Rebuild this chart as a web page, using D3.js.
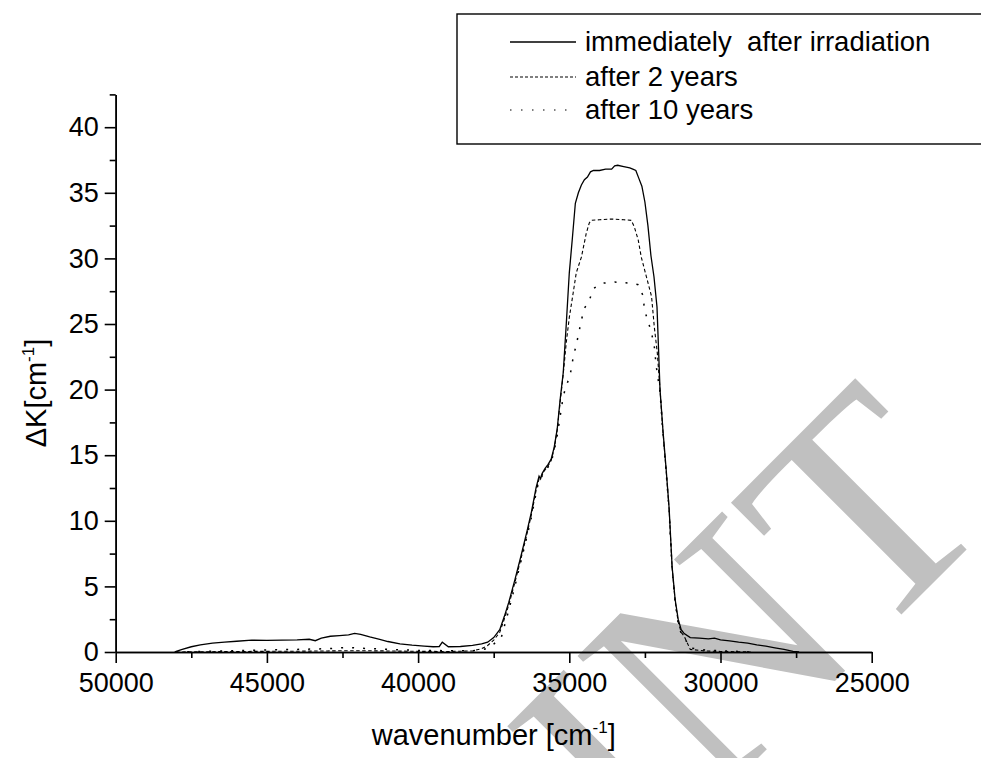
<!DOCTYPE html>
<html>
<head>
<meta charset="utf-8">
<script src="https://cdn.jsdelivr.net/npm/d3@7"></script>
<style>
	body { margin: 0; background: #fff; }
	svg { display: block; font-family: "Liberation Sans", Arial, sans-serif; }
</style>
</head>
<body>
<svg width="981" height="758"></svg>
<script>
// Spectra: wavenumber [cm-1] and delta K [cm-1]
var wnNow = [48050, 48000, 47800, 47500, 47200, 46800, 46400, 46000, 45500, 45000, 44500, 44000, 43600, 43400, 43200, 42900, 42600, 42300, 42100, 41900, 41600, 41300, 41000, 40600, 40200, 39800, 39500, 39300, 39200, 39000, 38600, 38200, 37900, 37700, 37500, 37300, 37150, 37000, 36800, 36600, 36400, 36250, 36100, 36000, 35950, 35900, 35800, 35700, 35600, 35500, 35400, 35300, 35200, 35100, 35000, 34900, 34800, 34700, 34600, 34500, 34400, 34300, 34200, 34000, 33800, 33600, 33500, 33400, 33200, 33000, 32900, 32800, 32700, 32600, 32500, 32400, 32300, 32200, 32100, 32000, 31900, 31800, 31700, 31600, 31500, 31400, 31300, 31200, 31000, 30700, 30400, 30200, 30000, 29700, 29400, 29100, 28800, 28500, 28200, 27900, 27600, 27400]
var kNow = [0, 0.05, 0.2, 0.4, 0.55, 0.68, 0.75, 0.82, 0.9, 0.88, 0.9, 0.92, 0.97, 0.86, 1.05, 1.2, 1.25, 1.3, 1.42, 1.35, 1.15, 0.98, 0.8, 0.62, 0.52, 0.45, 0.4, 0.42, 0.75, 0.4, 0.42, 0.5, 0.62, 0.75, 1.1, 1.7, 2.7, 3.8, 5.5, 7.3, 9.2, 10.7, 12.5, 13.4, 13.2, 13.6, 14.0, 14.3, 14.7, 15.6, 17.0, 19.3, 21.3, 25.0, 28.9, 31.5, 34.2, 35.0, 35.6, 36.0, 36.2, 36.6, 36.7, 36.7, 36.8, 36.8, 37.05, 37.1, 37.0, 36.9, 36.8, 36.7, 36.1, 35.5, 34.3, 32.5, 30.2, 28.6, 26.3, 20.0, 16.8, 14.0, 11.0, 6.5, 4.0, 2.5, 1.7, 1.4, 1.1, 1.05, 1.0, 1.05, 0.92, 0.85, 0.75, 0.68, 0.55, 0.45, 0.32, 0.2, 0.05, 0]

var wn2y = [48000, 47000, 46000, 45000, 44000, 43000, 42300, 42000, 41000, 40000, 39000, 38200, 37900, 37700, 37500, 37300, 37150, 37000, 36800, 36600, 36400, 36250, 36100, 36000, 35900, 35800, 35700, 35600, 35500, 35400, 35300, 35200, 35100, 35000, 34870, 34770, 34600, 34440, 34340, 34270, 34000, 33600, 33200, 32950, 32850, 32720, 32620, 32450, 32280, 32190, 32090, 32000, 31900, 31800, 31700, 31600, 31500, 31400, 31300, 31200, 31000, 30500, 30000, 29000]
var k2y = [0, 0.02, 0.04, 0.05, 0.06, 0.08, 0.1, 0.1, 0.08, 0.05, 0.04, 0.08, 0.25, 0.5, 0.9, 1.5, 2.5, 3.6, 5.3, 7.1, 9.0, 10.5, 12.3, 13.2, 13.5, 13.9, 14.2, 14.6, 15.5, 16.9, 19.1, 21.2, 23.6, 25.5, 27.4, 28.9, 30.1, 31.9, 32.7, 32.9, 32.95, 33.0, 32.95, 32.9, 32.4, 31.4, 30.1, 28.6, 27.1, 24.8, 22.8, 20.0, 16.7, 13.9, 10.9, 6.4, 3.9, 2.3, 1.5, 1.2, 0.2, 0.08, 0.04, 0]

var wn10y = [48000, 47000, 46000, 45000, 44000, 43000, 42300, 42000, 41000, 40000, 39000, 38200, 37900, 37700, 37500, 37250, 37000, 36800, 36600, 36400, 36250, 36100, 36000, 35900, 35800, 35700, 35600, 35500, 35400, 35300, 35200, 35100, 35000, 34930, 34870, 34770, 34670, 34600, 34500, 34340, 34200, 33940, 33500, 32950, 32720, 32550, 32520, 32380, 32280, 32190, 32120, 32000, 31900, 31800, 31700, 31600, 31500, 31400, 31300, 31200, 31000, 30500, 30000, 29000]
var k10y = [0, 0.05, 0.1, 0.15, 0.2, 0.25, 0.35, 0.3, 0.2, 0.12, 0.1, 0.1, 0.15, 0.3, 0.6, 1.1, 3.2, 5.0, 6.9, 8.8, 10.3, 12.1, 13.1, 13.4, 13.8, 14.1, 14.5, 15.3, 16.5, 18.0, 19.5, 20.3, 20.9, 21.6, 22.5, 23.4, 24.5, 25.3, 26.2, 26.8, 27.7, 28.1, 28.2, 28.1, 28.0, 27.1, 26.1, 25.1, 24.3, 23.3, 21.7, 19.8, 16.6, 13.8, 10.8, 6.3, 3.8, 2.2, 1.4, 1.1, 0.3, 0.15, 0.1, 0]

// Axis ticks and legend texts
var xTicks = [50000, 45000, 40000, 35000, 30000, 25000]
var xMinor = [47500, 42500, 37500, 32500, 27500]
var yTicks = [0, 5, 10, 15, 20, 25, 30, 35, 40]
var yMinor = [2.5, 7.5, 12.5, 17.5, 22.5, 27.5, 32.5, 37.5, 42.5]
var seriesNames = ["immediately  after irradiation", "after 2 years", "after 10 years"]

var svg = d3.select("svg")

// Plot area in pixels
var plotLeft = 115.7, plotRight = 871.7, plotTop = 94.4, plotBottom = 652

var x = d3.scaleLinear().domain([50000, 25000]).range([plotLeft, plotRight]),
	y = d3.scaleLinear().domain([0, 42.5]).range([plotBottom, plotTop])

// Grey watermark behind the chart
svg.append("text")
	.attr("transform", "translate(1000,516) rotate(-45)")
	.attr("text-anchor", "end")
	.style("font-family", "'Liberation Serif', 'Times New Roman', serif")
	.style("font-size", "305px")
	.attr("fill", "#c0c0c0")
	.text("PREPRINT")

// Axes with major and minor ticks pointing outwards
function styleAxis(g) {
	g.select(".domain").attr("stroke", "#000").attr("stroke-width", 1.6)
	g.selectAll(".tick line").attr("stroke", "#000").attr("stroke-width", 1.6)
	g.selectAll("text").style("font-size", "27px").attr("fill", "#000")
		.style("font-family", "'Liberation Sans', Arial, sans-serif")
}

svg.append("g")
	.attr("transform", "translate(0," + plotBottom + ")")
	.call(d3.axisBottom(x).tickValues(xMinor).tickSize(6).tickFormat("").tickSizeOuter(0))
	.call(styleAxis)

svg.append("g")
	.attr("transform", "translate(0," + plotBottom + ")")
	.call(d3.axisBottom(x).tickValues(xTicks).tickSize(11).tickPadding(10).tickFormat(d3.format("d")).tickSizeOuter(0))
	.call(styleAxis)

svg.append("g")
	.attr("transform", "translate(" + plotLeft + ",0)")
	.call(d3.axisLeft(y).tickValues(yMinor).tickSize(6).tickFormat("").tickSizeOuter(0))
	.call(styleAxis)

svg.append("g")
	.attr("transform", "translate(" + plotLeft + ",0)")
	.call(d3.axisLeft(y).tickValues(yTicks).tickSize(11).tickPadding(6).tickFormat(d3.format("d")).tickSizeOuter(0))
	.call(styleAxis)

// The three spectra
var line = d3.line()
	.x(function(d) { return x(d[0]) })
	.y(function(d) { return y(d[1]) })

var series = [
	{ wn: wn10y, k: k10y, dash: "2,9", width: 1.5 },
	{ wn: wn2y, k: k2y, dash: "3.5,2.5", width: 1.1 },
	{ wn: wnNow, k: kNow, dash: null, width: 1.3 }
]

series.forEach(function(s) {
	svg.append("path")
		.datum(d3.zip(s.wn, s.k))
		.attr("fill", "none")
		.attr("stroke", "#000")
		.attr("stroke-width", s.width)
		.attr("stroke-dasharray", s.dash)
		.attr("d", line)
})

// Axis titles with superscripts
var xTitle = svg.append("text")
	.attr("x", (plotLeft + plotRight) / 2)
	.attr("y", 745)
	.attr("text-anchor", "middle")
	.style("font-size", "29px")
xTitle.append("tspan").text("wavenumber [cm")
xTitle.append("tspan").attr("dy", -12).style("font-size", "17px").text("-1")
xTitle.append("tspan").attr("dy", 12).text("]")

var yTitle = svg.append("text")
	.attr("transform", "translate(46,393) rotate(-90)")
	.attr("text-anchor", "middle")
	.style("font-size", "29px")
yTitle.append("tspan").text("\u0394K[cm")
yTitle.append("tspan").attr("dy", -12).style("font-size", "17px").text("-1")
yTitle.append("tspan").attr("dy", 12).text("]")

// Legend box, running off the right edge
var legend = svg.append("g")

legend.append("rect")
	.attr("x", 457).attr("y", 14)
	.attr("width", 600).attr("height", 130)
	.attr("fill", "#fff")
	.attr("stroke", "#000")
	.attr("stroke-width", 1.4)

var legendRows = [42, 77, 110]
var legendDash = [null, "3,2", "1.5,9.5"]

seriesNames.forEach(function(name, i) {
	legend.append("line")
		.attr("x1", 510).attr("x2", 576)
		.attr("y1", legendRows[i]).attr("y2", legendRows[i])
		.attr("stroke", "#000")
		.attr("stroke-width", i == 0 ? 1.3 : 1.1)
		.attr("stroke-dasharray", legendDash[i])
	legend.append("text")
		.attr("x", 585)
		.attr("y", legendRows[i] + 9)
		.style("font-size", "27.5px")
		.style("white-space", "pre")
		.attr("xml:space", "preserve")
		.text(name)
})
</script>
</body>
</html>
